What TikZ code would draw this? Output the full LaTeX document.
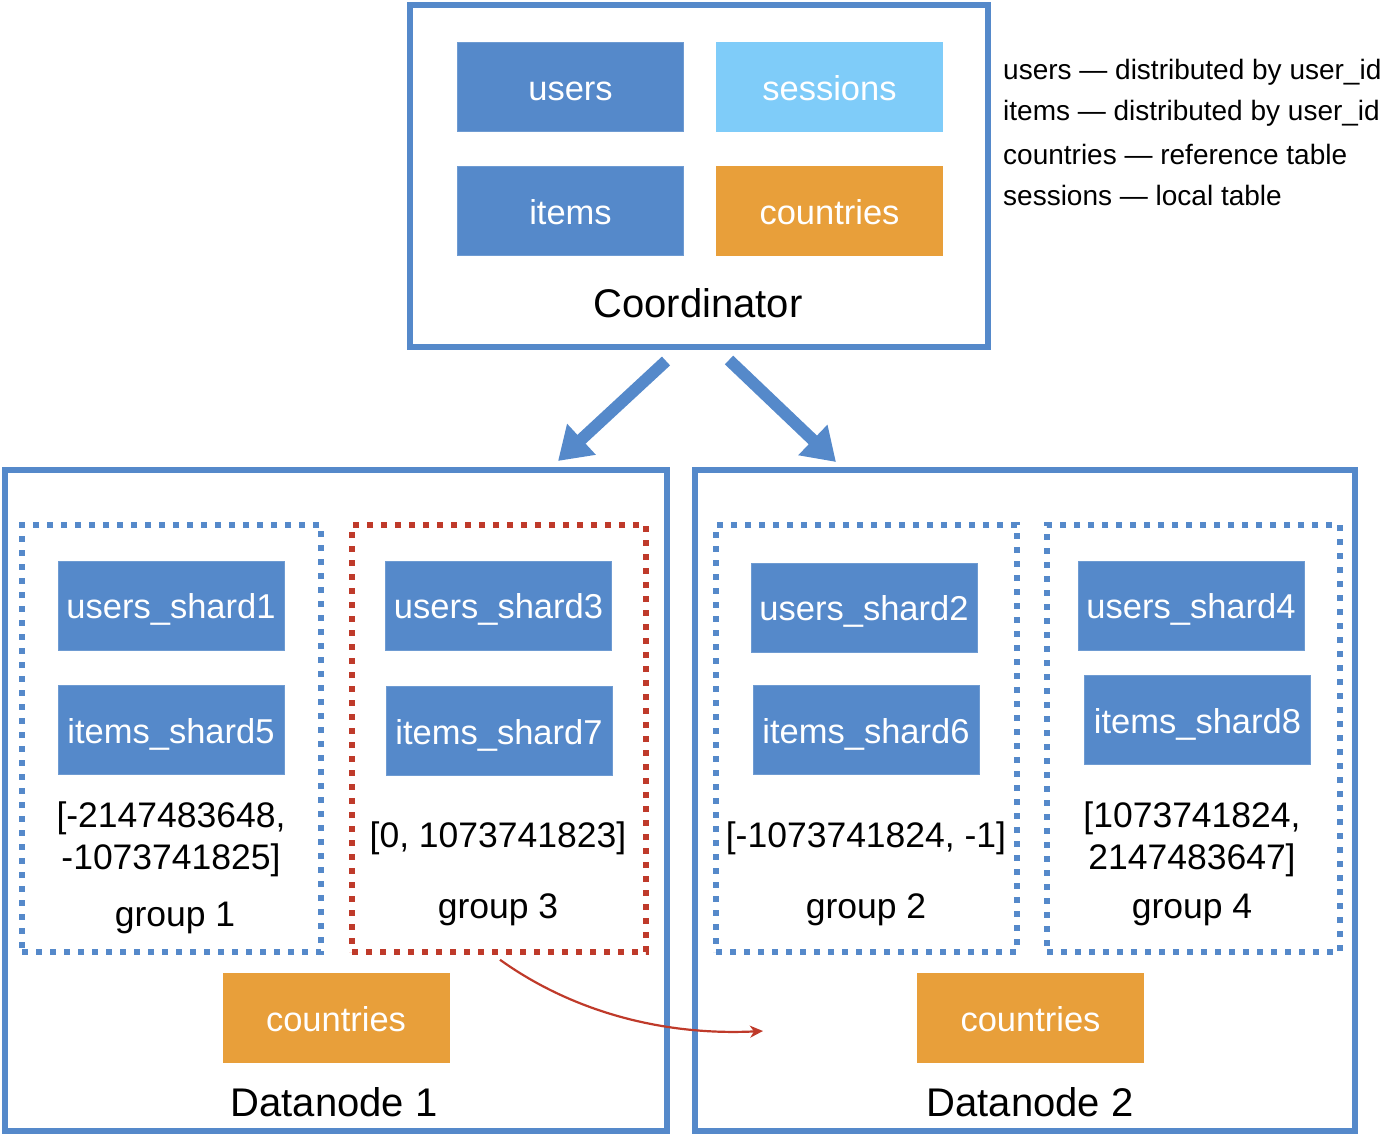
\documentclass[tikz,border=0pt]{standalone}
\usepackage{fontspec}
\setmainfont{Liberation Sans}
\usetikzlibrary{arrows.meta,calc}
\definecolor{cblue}{HTML}{5589CA}
\definecolor{clight}{HTML}{7FCCF9}
\definecolor{corange}{HTML}{E89F3A}
\definecolor{cred}{HTML}{BF3A2A}
\begin{document}
\begin{tikzpicture}[x=1pt,y=-1pt,
  tbl/.style={fill=cblue, draw=cblue!85!white, line width=0.8pt, text=white, inner sep=0pt,
    minimum width=226pt, minimum height=89pt, text height=32pt, text depth=6pt,
    font=\fontsize{34.5}{40}\selectfont},
  lightbl/.style={tbl, fill=clight, draw=clight},
  reftbl/.style={tbl, fill=corange, draw=corange},
  outerbox/.style={draw=cblue, line width=6pt, inner sep=0pt},
  grpbox/.style={draw=cblue, line width=5.5pt, dash pattern=on 6pt off 8pt, inner sep=0pt},
  redbox/.style={grpbox, draw=cred},
  lbl/.style={font=\fontsize{35.5}{41}\selectfont, inner sep=0pt, align=center},
  bigl/.style={font=\fontsize{40}{45}\selectfont, inner sep=0pt},
  legend/.style={font=\fontsize{28}{32}\selectfont, inner sep=0pt, anchor=west},
  fatarrow/.style={draw=cblue, line width=12pt, -{Triangle[width=40pt,length=32pt]}}
]
\useasboundingbox (0,0) rectangle (1400,1135);
% Coordinator
\node[outerbox, minimum width=578pt, minimum height=342pt] (coord) at (699,176) {};
\node[tbl] (users) at (570.5,87) {users};
\node[lightbl] (sessions) at (829.5,87) {sessions};
\node[tbl] (items) at (570.5,211) {items};
\node[reftbl] (countries) at (829.5,211) {countries};
\node[bigl] (coordl) at (698,303) {Coordinator};
% legend
\node[legend] (lg1) at (1003,72) {users — distributed by user\_id};
\node[legend] (lg2) at (1003,113) {items — distributed by user\_id};
\node[legend] (lg3) at (1003,154) {countries — reference table};
\node[legend] (lg4) at (1003,195) {sessions — local table};
% Datanodes
\node[outerbox, minimum width=662pt, minimum height=661pt] (dn1) at (336,800.5) {};
\node[outerbox, minimum width=660pt, minimum height=661pt] (dn2) at (1025,800.5) {};
% groups
\node[grpbox, minimum width=299pt, minimum height=427pt] (g1) at (171.5,738.5) {};
\node[redbox, minimum width=294pt, minimum height=427pt] (g3) at (499,738.5) {};
\node[grpbox, minimum width=301pt, minimum height=427pt] (g2) at (866.5,738.5) {};
\node[grpbox, minimum width=293pt, minimum height=427pt] (g4) at (1193.5,738.5) {};
% shards
\node[tbl] (us1) at (171,605.5) {users\_shard1};
\node[tbl] (is5) at (171,730) {items\_shard5};
\node[tbl] (us3) at (498.5,605.5) {users\_shard3};
\node[tbl] (is7) at (499,731) {items\_shard7};
\node[tbl] (us2) at (864,607.5) {users\_shard2};
\node[tbl] (is6) at (866,730) {items\_shard6};
\node[tbl] (us4) at (1191,605.5) {users\_shard4};
\node[tbl] (is8) at (1197.5,720) {items\_shard8};
% ranges
\node[lbl] (r1) at (171,839) {[-2147483648,\\[1pt]-1073741825]};
\node[lbl] (r3) at (498,838) {[0, 1073741823]};
\node[lbl] (r2) at (866,838) {[-1073741824, -1]};
\node[lbl] (r4) at (1192,839) {[1073741824,\\[1pt]2147483647]};
\node[lbl] (gl1) at (175,918) {group 1};
\node[lbl] (gl3) at (498,910) {group 3};
\node[lbl] (gl2) at (866,910) {group 2};
\node[lbl] (gl4) at (1192,910) {group 4};
% countries on datanodes
\node[reftbl] (c1) at (336,1018) {countries};
\node[reftbl] (c2) at (1030.5,1018) {countries};
\node[bigl] (dn1l) at (334,1102) {Datanode 1};
\node[bigl] (dn2l) at (1030,1102) {Datanode 2};
% arrows
\coordinate (a1s) at ($(coord.south)+(-33,11)$);
\coordinate (a1e) at ($(dn1.north)+(222,-6)$);
\coordinate (a2s) at ($(coord.south)+(30,10)$);
\coordinate (a2e) at ($(dn2.north)+(-189,-5)$);
\draw[fatarrow] (a1s) -- (a1e);
\draw[fatarrow] (a2s) -- (a2e);
\coordinate (redend) at (763,1031);
\draw[cred, line width=2.2pt, -{Stealth[width=12pt,length=13pt,inset=4pt]}]
  ($(g3.south)+(1,5)$) .. controls (570,1010) and (660,1036) .. (redend);
\end{tikzpicture}
\end{document}
